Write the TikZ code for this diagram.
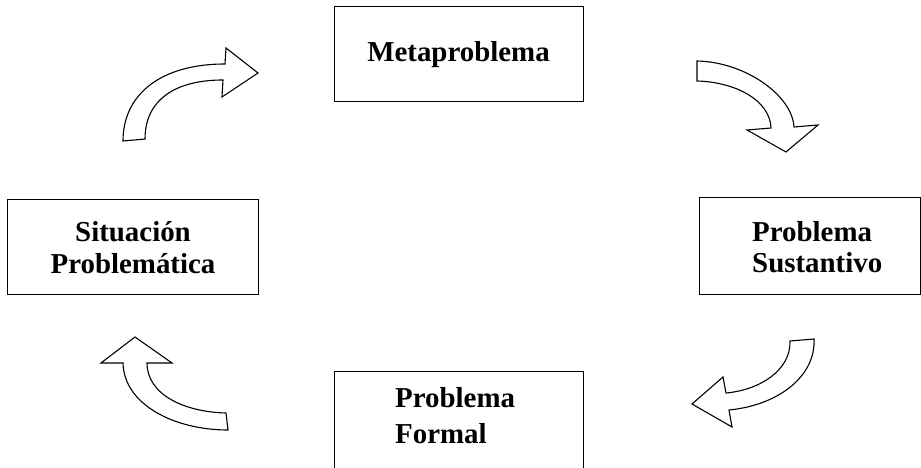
\documentclass[tikz,border=0pt]{standalone}
\usepackage{fontspec}
\setmainfont{Liberation Serif}
\begin{document}
\begin{tikzpicture}[x=1bp,y=-1bp,
  box/.style={draw=black, line width=1bp, inner sep=0pt, fill=white},
  lbl/.style={font=\fontsize{29}{32}\selectfont\bfseries},
  bent/.style={draw=black, fill=white, line width=1.1bp, line join=miter}]
\useasboundingbox (0,0) rectangle (921,468);
\clip (0,0) rectangle (921,468);
% boxes
\node[box, minimum width=249bp, minimum height=95bp, lbl] (meta) at (458.5,54.5) {Metaproblema};
\node[box, minimum width=250bp, minimum height=95bp, lbl, align=center] (sit) at (133,247.5) {Situación\\Problemática};
\node[box, minimum width=221bp, minimum height=97bp] (sus) at (809.5,246.5) {};
\node[lbl, anchor=base west, inner sep=0pt] (susA) at (752,242) {Problema};
\node[lbl, anchor=base west, inner sep=0pt] (susB) at (752,273) {Sustantivo};
\node[box, minimum width=249bp, minimum height=128bp] (for) at (458.5,436) {};
\node[lbl, anchor=base west, inner sep=0pt] (forA) at (395,407) {Problema};
\node[lbl, anchor=base west, inner sep=0pt] (forB) at (395,443) {Formal};
% curved arrows
\path[bent] (123,141) -- (145,139) .. controls (145,100) and (175,80) .. (223,80)
  -- (222,97) -- (258,73) -- (226,48) -- (225,64)
  .. controls (160,64) and (123,95) .. (123,141) -- cycle;
\path[bent] (697,61) .. controls (745,62) and (792,95) .. (794,127)
  -- (818,125) -- (786,152) -- (747,130) -- (771,128)
  .. controls (770,100) and (735,82) .. (697,81) -- cycle;
\path[bent] (790,341) -- (814,339) .. controls (816,375) and (780,405) .. (729,410)
  -- (732,427) -- (692,404) -- (723,377) -- (726,393)
  .. controls (760,390) and (791,370) .. (790,341) -- cycle;
\path[bent] (123,363) -- (101,363) -- (135,337) -- (172,363) -- (147,363)
  .. controls (147,395) and (185,412) .. (226,413) -- (228,430)
  .. controls (175,430) and (124,405) .. (123,363) -- cycle;
\end{tikzpicture}
\end{document}
